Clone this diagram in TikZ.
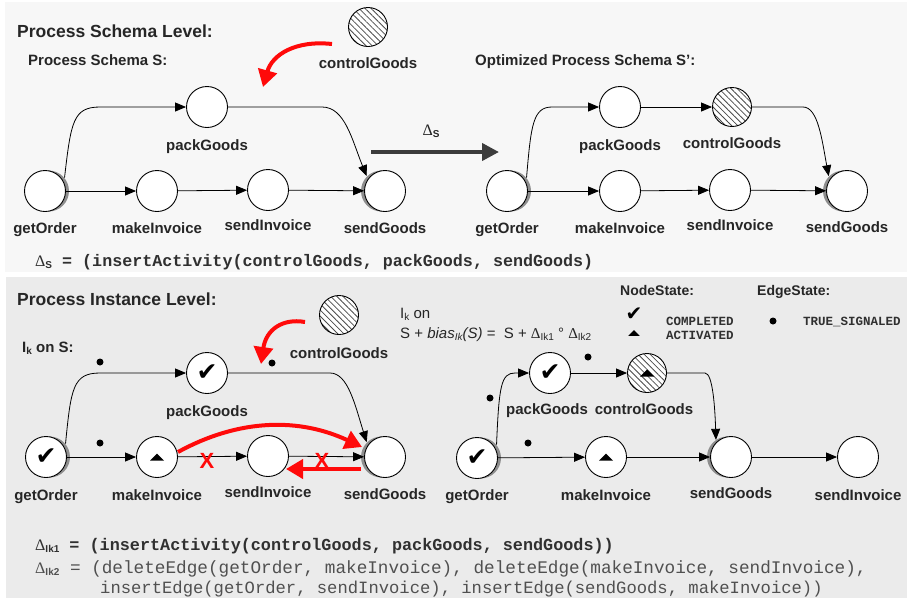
\documentclass[tikz,border=0pt]{standalone}
\usepackage{fontspec}
\setmainfont{Liberation Sans}
\newfontfamily\mono{Liberation Mono}
\newfontfamily\symf{DejaVu Sans}
\newfontfamily\grk{Liberation Serif}
\usetikzlibrary{arrows.meta,patterns.meta,calc}
\pgfdeclarelayer{panel}
\pgfdeclarelayer{shade}
\pgfsetlayers{panel,shade,main}

\definecolor{topbg}{HTML}{F7F7F7}
\definecolor{botbg}{HTML}{EBEBEB}
\definecolor{ink}{HTML}{262626}
\definecolor{codeink}{HTML}{303030}
\definecolor{lightcode}{HTML}{505050}
\definecolor{shadowgray}{HTML}{8E8E8E}
\definecolor{alert}{HTML}{FF0A0A}
\definecolor{deltagray}{HTML}{3C3C3C}

% subscript in running text
\newcommand\sbs[1]{\raisebox{-2.5pt}{\fontsize{10}{10}\selectfont#1}}
\newcommand\dlt{{\grk\mdseries Δ}}

\tikzset{
  act/.style={circle,draw=black,fill=white,line width=0.9pt,minimum size=41pt,inner sep=0pt,
              font=\symf\fontsize{25}{25}\selectfont},
  hatch/.style={circle,draw=black,line width=0.9pt,minimum size=39pt,inner sep=0pt,
              preaction={fill=white},pattern={Lines[angle=-45,distance=4.3pt,line width=0.8pt]},
              pattern color=black!70},
  lbl/.style={font=\fontsize{15}{15}\selectfont\bfseries,text=ink,anchor=base,inner sep=0pt},
  hdr/.style={font=\fontsize{17.5}{17.5}\selectfont\bfseries,text=ink,anchor=base west,inner sep=0pt},
  sub/.style={font=\fontsize{15}{15}\selectfont\bfseries,text=ink,anchor=base west,inner sep=0pt},
  leg/.style={font=\fontsize{14}{14}\selectfont\bfseries,text=ink,anchor=base west,inner sep=0pt},
  legcode/.style={font=\mono\bfseries\fontsize{12.5}{12.5}\selectfont,text=codeink,anchor=base west,inner sep=0pt},
  flow/.style={line width=0.8pt,-{Triangle[length=11pt,width=9pt]}},
  change/.style={line width=4pt,alert,-{Triangle[length=17pt,width=19pt]}},
  derive/.style={line width=4pt,deltagray,-{Triangle[length=17pt,width=17pt]}},
  xmark/.style={font=\fontsize{22}{22}\selectfont\bfseries,text=alert,inner sep=0pt},
  dot/.style={circle,fill=black,inner sep=0pt,minimum size=7pt},
  tri/.pic={\fill[black] (-7,3.5) -- (7,3.5) -- (0,-3.5) -- cycle;},
}

\begin{document}
\begin{tikzpicture}[x=1pt,y=-1pt]
\useasboundingbox (0,0) rectangle (907,598);

\begin{pgfonlayer}{panel}
  \fill[white] (0,0) rectangle (907,598);
  \fill[topbg] (5,2) rectangle (907,272);
  \fill[botbg] (6,277) rectangle (907,598);
\end{pgfonlayer}

% ---------------- schema level ----------------
\node[hdr] (lvl1) at (17,37) {Process Schema Level:};
\node[sub] (ps) at (28,65) {Process Schema S:};
\node[sub] (ops) at (475,65) {Optimized Process Schema S’:};

% schema S
\node[act] (a1) at (45,191) {};
\node[act] (b1) at (157,191) {};
\node[act] (c1) at (268,190) {};
\node[act] (d1) at (385,191) {};
\node[act] (p1) at (207,107) {};
\node[hatch] (h1) at (368,27) {};

\node[lbl] at (45,233) {getOrder};
\node[lbl] at (157,233) {makeInvoice};
\node[lbl] at (268,230) {sendInvoice};
\node[lbl] at (385,233) {sendGoods};
\node[lbl] at (207,150) {packGoods};
\node[lbl] at (368,68) {controlGoods};

\draw[flow] (a1) -- (b1);
\draw[flow] (b1) -- (c1);
\draw[flow] (c1) -- (d1);
\draw[flow] ($(a1.40)+(3.5,0)$) .. controls (71,122) and (73,107) .. (100,107) -- (p1);
\draw[flow] (p1) -- (322,107) .. controls (345,107) and (352,140) .. ($(d1.135)+(-3.5,0)$);

\coordinate (ins1s) at (332,44);
\coordinate (ins1e) at (263,87);
\draw[change] (ins1s) .. controls (295,40) and (272,55) .. (ins1e);

% derivation arrow
\coordinate (dvs) at (371,152);
\coordinate (dve) at (499,152);
\draw[derive] (dvs) -- (dve);
\node[font=\fontsize{16}{16}\selectfont,text=ink,anchor=base] at (431,135) {\dlt\sbs{\bfseries S}};

% optimized schema S'
\node[act] (a2) at (507,191) {};
\node[act] (b2) at (620,191) {};
\node[act] (c2) at (730,190) {};
\node[act] (d2) at (847,191) {};
\node[act] (p2) at (620,107) {};
\node[hatch] (h2) at (732,107) {};

\node[lbl] at (507,233) {getOrder};
\node[lbl] at (620,233) {makeInvoice};
\node[lbl] at (730,230) {sendInvoice};
\node[lbl] at (847,232) {sendGoods};
\node[lbl] at (620,150) {packGoods};
\node[lbl] at (732,148) {controlGoods};

\draw[flow] (a2) -- (b2);
\draw[flow] (b2) -- (c2);
\draw[flow] (c2) -- (d2);
\draw[flow] ($(a2.40)+(3.5,0)$) .. controls (531,125) and (533,107) .. (552,107) -- (p2);
\draw[flow] (p2) -- (h2);
\draw[flow] (h2) -- (803,107) .. controls (818,107) and (822,140) .. ($(d2.135)+(-3.5,0)$);

\node[anchor=base west,inner sep=0pt,text=codeink] at (35,266)
  {\fontsize{16}{16}\selectfont\dlt\sbs{\bfseries S}{\mono\bfseries\fontsize{16.7}{16.7}\selectfont{} = (insertActivity(controlGoods, packGoods, sendGoods)}};

% ---------------- instance level ----------------
\node[hdr] (lvl2) at (17,305) {Process Instance Level:};
\node[sub] (ik) at (22,352) {I\sbs{k} on S:};

% instance on S
\node[act] (a3) at (46,457) {✔};
\node[act] (b3) at (157,457) {};
\node[act] (c3) at (268,456) {};
\node[act] (d3) at (385,457) {};
\node[act] (p3) at (207,373) {✔};
\node[hatch] (h3) at (339,315) {};
\path (b3) pic {tri};

\node[lbl] at (46,500) {getOrder};
\node[lbl] at (157,500) {makeInvoice};
\node[lbl] at (268,497) {sendInvoice};
\node[lbl] at (385,499) {sendGoods};
\node[lbl] at (207,416) {packGoods};
\node[lbl] at (339,358) {controlGoods};

\draw[flow] (a3) -- (b3);
\draw[flow] (b3) -- (c3);
\draw[flow] (c3) -- (d3);
\draw[flow] ($(a3.40)+(3.5,0)$) .. controls (71,388) and (73,373) .. (100,373) -- (p3);
\draw[flow] (p3) -- (330,373) .. controls (348,373) and (355,405) .. ($(d3.135)+(-3.5,0)$);

\node[dot] at (100,362) {};
\node[dot] at (272,363) {};
\node[dot] at (100,443) {};

\coordinate (ins2s) at (305,322);
\coordinate (ins2e) at (261,364);
\draw[change] (ins2s) .. controls (282,318) and (266,330) .. (ins2e);
\coordinate (mvs) at (178,452);
\coordinate (mve) at (362,447);
\draw[change] (mvs) .. controls (240,418) and (300,418) .. (mve);
\coordinate (bks) at (361,469);
\coordinate (bke) at (286,469);
\draw[change] (bks) -- (bke);
\node[xmark] at (207,461) {X};
\node[xmark] at (322,461) {X};

% bias description and legend
\node[anchor=base west,inner sep=0pt,text=ink,font=\fontsize{15}{15}\selectfont] at (400,318) {I\sbs{k} on};
\node[anchor=base west,inner sep=0pt,text=ink,font=\fontsize{15}{15}\selectfont] at (400,338)
  {S + \textit{bias}\sbs{\itshape Ik}\textit{(S)} = \ S + \dlt\sbs{Ik1} ° \dlt\sbs{Ik2}};

\node[leg] at (620,295) {NodeState:};
\node[leg] at (757,295) {EdgeState:};
\node[font=\symf\fontsize{20}{20}\selectfont] at (634,314) {✔};
\node[legcode] at (666,325) {COMPLETED};
\path (634,333) pic[scale=0.8] {tri};
\node[legcode] at (666,339) {ACTIVATED};
\node[dot] at (773,321) {};
\node[legcode] at (803,325) {TRUE\_SIGNALED};

% instance on S + bias
\node[act] (a4) at (477,458) {✔};
\node[act] (b4) at (606,457) {};
\node[act] (d4) at (731,457) {};
\node[act] (c4) at (858,457) {};
\node[act] (p4) at (550,373) {✔};
\node[hatch] (h4) at (647,373) {};
\path (b4) pic {tri};
\path (h4) pic {tri};

\node[lbl] at (477,500) {getOrder};
\node[lbl] at (606,500) {makeInvoice};
\node[lbl] at (731,498) {sendGoods};
\node[lbl] at (858,500) {sendInvoice};
\node[lbl] at (547,414) {packGoods};
\node[lbl] at (644,414) {controlGoods};

\draw[flow] (a4) -- (b4);
\draw[flow] (b4) -- (d4);
\draw[flow] (d4) -- (c4);
\draw[flow] ($(a4.40)+(3.5,0)$) .. controls (499,386) and (501,373) .. (515,373) -- (p4);
\draw[flow] (p4) -- (h4);
\draw[flow] (h4) -- (705,373) .. controls (713,373) and (715,410) .. ($(d4.125)+(-3,0)$);

\node[dot] at (490,398) {};
\node[dot] at (588,357) {};
\node[dot] at (528,443) {};

% change operations
\node[anchor=base west,inner sep=0pt,text=codeink] at (35,550)
  {\fontsize{16}{16}\selectfont\dlt\sbs{\bfseries Ik1}{\mono\bfseries\fontsize{16.8}{16.8}\selectfont{} = (insertActivity(controlGoods, packGoods, sendGoods))}};
\node[anchor=base west,inner sep=0pt,text=lightcode] at (35,573)
  {\fontsize{16}{16}\selectfont\dlt\sbs{\bfseries Ik2}{\mono\fontsize{17.7}{17.7}\selectfont{} = (deleteEdge(getOrder, makeInvoice), deleteEdge(makeInvoice, sendInvoice),}};
\node[anchor=base west,inner sep=0pt,text=lightcode,font=\mono\fontsize{17.2}{17.2}\selectfont] at (100,593)
  {insertEdge(getOrder, sendInvoice), insertEdge(sendGoods, makeInvoice))};

% shadows of split and join nodes
\begin{pgfonlayer}{shade}
  \foreach \n in {a1,a2,a3,a4} \fill[shadowgray] ($(\n)+(3.5,0)$) circle (20.5);
  \foreach \n in {d1,d2,d3,d4} \fill[shadowgray] ($(\n)+(-3.5,0)$) circle (20.5);
\end{pgfonlayer}
\end{tikzpicture}
\end{document}
